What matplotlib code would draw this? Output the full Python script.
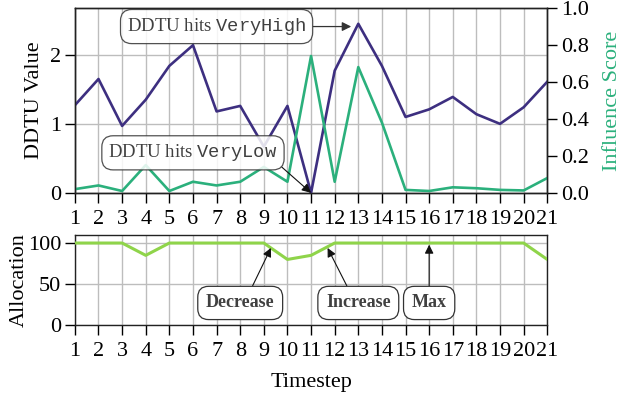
"""
DDTU value, influence score and allocation per timestep
"""

import matplotlib
matplotlib.use('Agg')
import matplotlib.pyplot as plt

plt.rcParams['font.family'] = ['Liberation Serif', 'DejaVu Serif']
plt.rcParams['mathtext.fontset'] = 'custom'
plt.rcParams['mathtext.rm'] = 'Liberation Serif'
plt.rcParams['mathtext.tt'] = 'Liberation Mono'
plt.rcParams['font.size'] = 16

# Data
timesteps = list(range(1, 22))
ddtu_value = [1.27, 1.65, 0.97, 1.35, 1.84, 2.14, 1.18, 1.26, 0.67, 1.26, 0.0,
              1.77, 2.45, 1.84, 1.10, 1.21, 1.39, 1.14, 1.00, 1.24, 1.61]
influence_score = [0.02, 0.04, 0.01, 0.15, 0.01, 0.06, 0.04, 0.06, 0.14, 0.06, 0.74,
                   0.06, 0.68, 0.38, 0.016, 0.01, 0.03, 0.025, 0.016, 0.013, 0.08]
allocation = [100, 100, 100, 85, 100, 100, 100, 100, 100, 80, 85,
              100, 100, 100, 100, 100, 100, 100, 100, 100, 80]

purple = '#3d2f80'
green = '#2bb07c'
light_green = '#8fd44a'
text_grey = '#404040'

fig = plt.figure(figsize=(6.24, 3.96), dpi=100)
ax1 = fig.add_axes([0.120, 0.513, 0.757, 0.467])
ax3 = fig.add_axes([0.120, 0.179, 0.757, 0.228])

# Top panel: DDTU value and influence score
ax1.plot(timesteps, ddtu_value, color=purple, lw=1.9, zorder=3)
ax1.set_xlim(1, 21)
ax1.set_ylim(0, 2.68)
ax1.set_yticks([0, 1, 2])
ax1.set_xticks(timesteps)
ax1.set_ylabel('DDTU Value', labelpad=4)
ax1.grid(True, color='#bdbdbd', lw=1.0)
ax1.set_axisbelow(True)

ax2 = ax1.twinx()
ax2.plot(timesteps, influence_score, color=green, lw=1.9)
ax2.set_ylim(0, 1.0)
ax2.set_yticks([0, 0.2, 0.4, 0.6, 0.8, 1.0])
ax2.set_yticklabels(['0.0', '0.2', '0.4', '0.6', '0.8', '1.0'])
ax2.set_ylabel('Influence Score', color=green, labelpad=10)

box = dict(boxstyle='round,pad=0.35,rounding_size=0.6', fc='white', ec='#333333', lw=0.9, alpha=0.85)
ax2.annotate('DDTU hits $\\mathtt{VeryHigh}$', xy=(12.7, 2.41), xytext=(7.0, 2.41),
             xycoords=ax1.transData, textcoords=ax1.transData,
             ha='center', va='center', fontsize=13.5, color=text_grey, bbox=box,
             arrowprops=dict(arrowstyle='-|>', color='#333333', lw=0.9, relpos=(1, 0.5),
                             shrinkA=0, shrinkB=0))
ax2.annotate('DDTU hits $\\mathtt{VeryLow}$', xy=(11.0, 0.0), xytext=(6.0, 0.58),
             xycoords=ax1.transData, textcoords=ax1.transData,
             ha='center', va='center', fontsize=13.5, color=text_grey, bbox=box,
             arrowprops=dict(arrowstyle='-|>', color='#111111', lw=0.8, relpos=(1, 0),
                             shrinkA=0, shrinkB=0))

# Bottom panel: allocation
ax3.plot(timesteps, allocation, color=light_green, lw=2.2, zorder=3)
ax3.set_xlim(1, 21)
ax3.set_ylim(0, 110)
ax3.set_yticks([0, 50, 100])
ax3.set_xticks(timesteps)
ax3.set_ylabel('Allocation', labelpad=-1)
ax3.set_xlabel('Timestep', labelpad=9)
ax3.grid(True, color='#bdbdbd', lw=1.0)
ax3.set_axisbelow(True)

box2 = dict(boxstyle='round,pad=0.45,rounding_size=0.6', fc='white', ec='#333333', lw=0.9)
for label, target, pos, rel in [('Decrease', (9.3, 94), (8.0, 27), (0.62, 1)),
                                ('Increase', (11.7, 94), (13.0, 27), (0.39, 1)),
                                ('Max', (16.0, 98), (16.0, 27), (0.5, 1))]:
    ax3.annotate(label, xy=target, xytext=pos, ha='center', va='center',
                 fontsize=13, fontweight='bold', color=text_grey, bbox=box2,
                 arrowprops=dict(arrowstyle='-|>', color='#111111', lw=0.8, relpos=rel,
                                 shrinkA=0, shrinkB=0))

for ax in (ax1, ax2, ax3):
    ax.tick_params(direction='out', length=7, width=1.0, pad=3)
    for s in ax.spines.values():
        s.set_linewidth(1.0)
        s.set_color('#222222')
ax1.tick_params(axis='x', pad=5)
ax3.tick_params(axis='x', pad=5)

fig.savefig('out.png', dpi=100)
